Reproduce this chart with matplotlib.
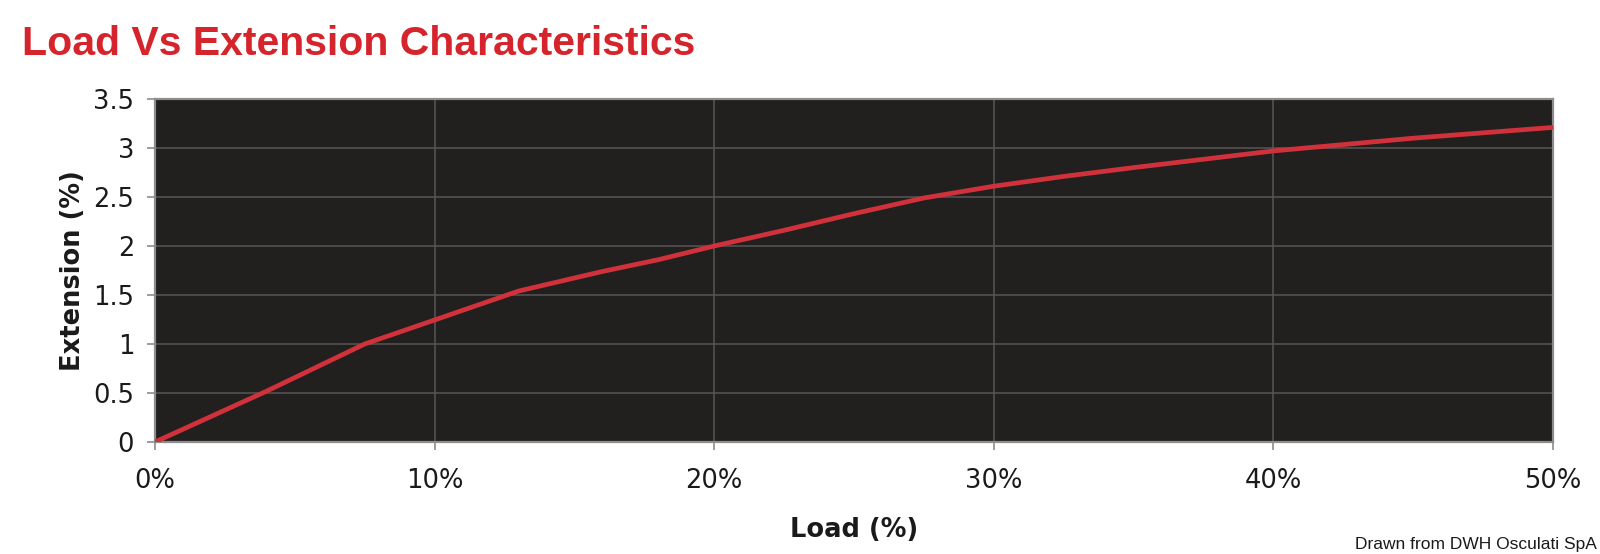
import matplotlib
matplotlib.use("Agg")
import matplotlib.pyplot as plt
from matplotlib import font_manager
from matplotlib.ticker import FuncFormatter

# values
load_pct = [0, 4, 7.5, 10, 13, 16, 18, 20, 22.5, 25, 27.5, 30, 32.5, 35, 40, 45, 50]
extension_pct = [0, 0.52, 1.0, 1.245, 1.54, 1.74, 1.86, 2.0, 2.16, 2.33, 2.49, 2.61, 2.71, 2.8, 2.97, 3.1, 3.21]
x_ticks = [0, 10, 20, 30, 40, 50]
y_ticks = [0, 0.5, 1, 1.5, 2, 2.5, 3, 3.5]

TITLE = "Load Vs Extension Characteristics"
CREDIT = "Drawn from DWH Osculati SpA"


def pick_font(*names):
    installed = {f.name for f in font_manager.fontManager.ttflist}
    for n in names:
        if n in installed:
            return n
    return "DejaVu Sans"


narrow = pick_font("Liberation Sans Narrow", "Liberation Sans")
narrow_is_narrow = narrow == "Liberation Sans Narrow"

fig = plt.figure(figsize=(16, 5.54), dpi=100)
ax = fig.add_axes([155 / 1600, 1 - 442 / 554, (1553 - 155) / 1600, (442 - 99) / 554])

ax.set_facecolor("#221f1f")
ax.plot(load_pct, extension_pct, color="#d1313a", lw=3.4, solid_capstyle="round",
        solid_joinstyle="round", zorder=3)

ax.set_xlim(0, 50)
ax.set_ylim(0, 3.5)
ax.set_xticks(x_ticks)
ax.set_yticks(y_ticks)
ax.xaxis.set_major_formatter(FuncFormatter(lambda v, p: f"{v:.0f}%"))
ax.yaxis.set_major_formatter(FuncFormatter(lambda v, p: f"{v:g}"))

ax.grid(True, color="#575555", lw=1.1, zorder=1)
for s in ax.spines.values():
    s.set_color("#8e8c8c")
    s.set_linewidth(1.6)

ax.tick_params(axis="both", colors="#8e8c8c", length=6, width=1.2,
               labelcolor="#1a1a1a", labelsize=18.5)
ax.tick_params(axis="y", pad=9)
ax.tick_params(axis="x", pad=13)

ax.set_ylabel("Extension (%)", fontsize=18.5, fontweight="bold", color="#1a1a1a", labelpad=5)
ax.set_xlabel("Load (%)", fontsize=18.5, fontweight="bold", color="#1a1a1a", labelpad=16)

fig.text(22 / 1600, 1 - 44 / 554, TITLE, color="#d6242c", fontweight="bold",
         fontsize=33 if narrow_is_narrow else 29.5, family=narrow, va="center", ha="left")
fig.text(1597 / 1600, 1 - 545 / 554, CREDIT, color="#1a1a1a",
         fontsize=15 if narrow_is_narrow else 12.5, family=narrow, va="center", ha="right")

fig.savefig("out.png", dpi=100, facecolor="white")
